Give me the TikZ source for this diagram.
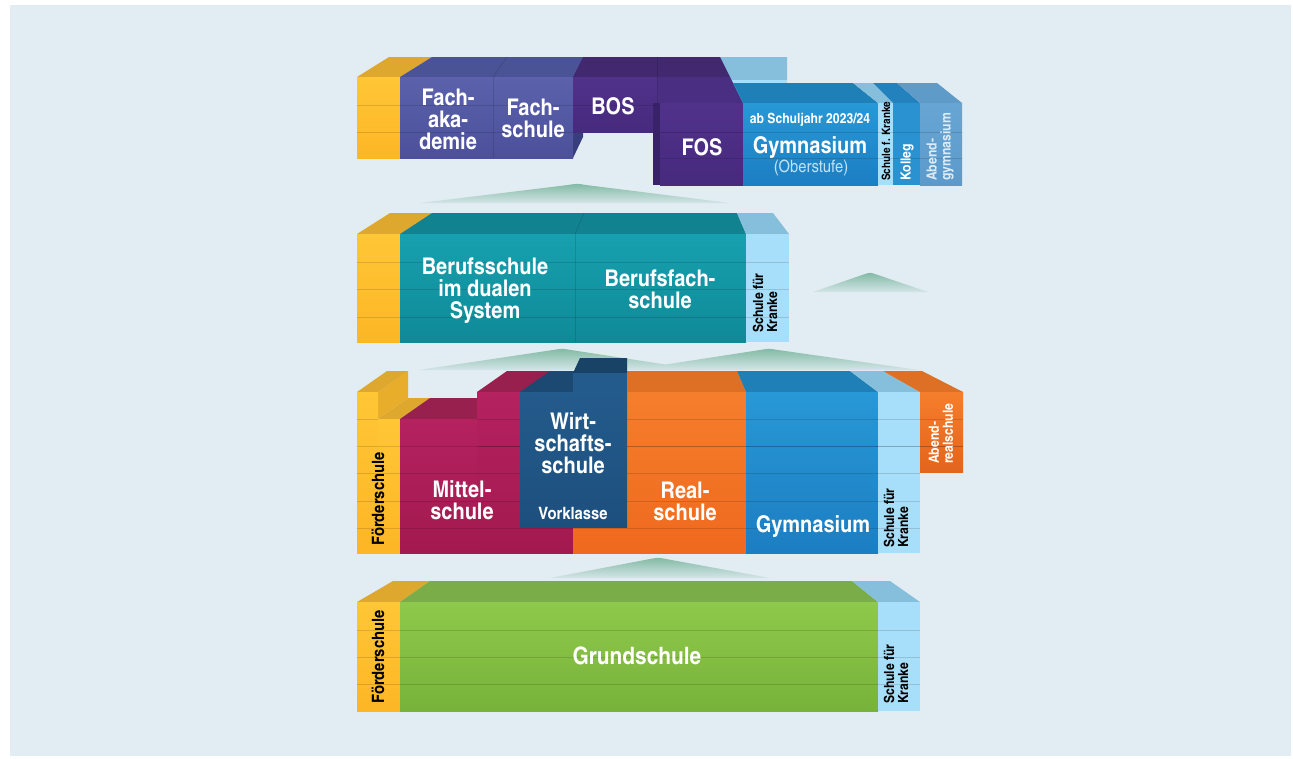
\documentclass[tikz,border=0pt]{standalone}
\usepackage{fontspec}
\setmainfont{texgyreheroscn}[Extension=.otf, UprightFont=*-regular, BoldFont=*-bold, FakeStretch=1.06]

% palette
\definecolor{bg}{HTML}{E2ECF3}
\definecolor{ylwT}{HTML}{FFC636}\definecolor{ylwB}{HTML}{FDB625}
\definecolor{ylwTop}{HTML}{DEA82F}\definecolor{ylwSide}{HTML}{E9AD2C}
\definecolor{grnT}{HTML}{8FC94B}\definecolor{grnB}{HTML}{77B23A}\definecolor{grnTop}{HTML}{7AAD48}
\definecolor{lbF}{HTML}{A7DEF9}\definecolor{lbTop}{HTML}{86BFDC}
\definecolor{tealT}{HTML}{17A0AF}\definecolor{tealB}{HTML}{0F8A97}\definecolor{tealTop}{HTML}{118290}
\definecolor{magT}{HTML}{B42260}\definecolor{magB}{HTML}{A3194F}\definecolor{magTop}{HTML}{97204F}
\definecolor{wsT}{HTML}{235B8C}\definecolor{wsB}{HTML}{1D4F7D}\definecolor{wsTop}{HTML}{1B4971}
\definecolor{orgT}{HTML}{F57E2C}\definecolor{orgB}{HTML}{EF691E}\definecolor{orgTop}{HTML}{DD7025}
\definecolor{gymT}{HTML}{2898D6}\definecolor{gymB}{HTML}{1C7EC2}\definecolor{gymTop}{HTML}{1E80B6}
\definecolor{fakT}{HTML}{5B61AB}\definecolor{fakB}{HTML}{4C509B}\definecolor{fakTop}{HTML}{4A5395}
\definecolor{fakSide}{HTML}{383D7C}
\definecolor{purT}{HTML}{50328B}\definecolor{purB}{HTML}{462A7D}\definecolor{purTop}{HTML}{42296F}
\definecolor{purMid}{HTML}{4A2E82}\definecolor{purSide}{HTML}{3A2268}
\definecolor{kolF}{HTML}{2A92D0}\definecolor{kolTop}{HTML}{2381BD}
\definecolor{agT}{HTML}{66A5D4}\definecolor{agB}{HTML}{5C9ACB}\definecolor{agTop}{HTML}{5E9BC8}
\definecolor{mtn}{HTML}{82BAA4}
\definecolor{oberst}{HTML}{BEE2F7}\definecolor{agText}{HTML}{DCEBF6}

\newcommand\rowlines[3]{\foreach \yy in {#3} \draw[rowline] (#1,\yy) -- (#2,\yy);}

\begin{document}
\begin{tikzpicture}[x=1pt,y=-1pt,
  rowline/.style={draw=black,opacity=0.13,line width=0.7pt},
  seam/.style={draw=black,opacity=0.12,line width=0.7pt},
  mount/.style={top color=mtn,bottom color=bg!85!mtn},
  lbl/.style={text=white,font=\fontsize{23}{22}\selectfont\bfseries,align=center,inner sep=0pt},
  small/.style={text=black,font=\fontsize{14}{14}\selectfont\bfseries,align=left,inner sep=0pt,rotate=90,anchor=west},
  foerd/.style={text=black,font=\fontsize{17}{17}\selectfont\bfseries,inner sep=0pt,rotate=90}]
\useasboundingbox (0,0) rectangle (1293,758);
\fill[white] (0,0) rectangle (1293,758);
\fill[bg] (10,5) rectangle (1291,756);

% transition hills between the levels
\shade[mount] (420,203) -- (568,185) .. controls (577,183.5) .. (586,185) -- (730,203) -- cycle;
\shade[mount] (813,292) -- (865,274) .. controls (870,272.5) .. (875,274) -- (928,292) -- cycle;
\shade[mount] (419,370) -- (553,350) .. controls (562,348.5) .. (571,350) -- (701,370) -- cycle;
\shade[mount] (630,370) -- (760,350) .. controls (769,348.5) .. (778,350) -- (919,370) -- cycle;
\shade[mount] (550,578) -- (650,559) .. controls (658,557.5) .. (666,559) -- (770,578) -- cycle;

% ---------- upper level ----------
\fill[ylwTop] (357,77) -- (400,77) -- (432,57) -- (389,57) -- cycle;
\fill[fakTop] (400,77) -- (573,77) -- (583,57) -- (432,57) -- cycle;
\draw[seam] (493,77) -- (507,57);
\fill[fakSide] (573,77) -- (583,57) -- (583,137) -- (573,158) -- cycle;
\fill[lbTop] (718,57) -- (787,57) -- (787,80) -- (729,80) -- cycle;
\fill[lbF] (729,80) -- (787,80) -- (787,84) -- (731,84) -- cycle;
\fill[purTop] (573,77) -- (583,57) -- (720,57) -- (730,77) -- cycle;
\fill[purMid] (657,77) -- (730,77) -- (743,103) -- (657,103) -- cycle;
\fill[gymTop] (743,103) -- (878,103) -- (853,83) -- (733,83) -- cycle;
\fill[lbTop] (878,103) -- (893,103) -- (873,83) -- (853,83) -- cycle;
\fill[kolTop] (893,103) -- (920,103) -- (897,83) -- (873,83) -- cycle;
\fill[agTop] (920,103) -- (962,103) -- (937,83) -- (897,83) -- cycle;

\shade[top color=ylwT,bottom color=ylwB] (357,77) rectangle (400,158);
\shade[top color=fakT,bottom color=fakB] (400,77) rectangle (573,158);
\draw[seam] (493,77) -- (493,158);
\shade[top color=purT,bottom color=purB] (573,77) rectangle (657,132);
\draw[seam] (657,57) -- (657,103);
\fill[purSide] (653,103) rectangle (660,185);
\shade[top color=purT,bottom color=purB] (660,103) rectangle (743,185);
\shade[top color=gymT,bottom color=gymB] (743,103) rectangle (878,185);
\fill[lbF] (878,103) rectangle (893,185);
\fill[kolF] (893,103) rectangle (920,185);
\shade[top color=agT,bottom color=agB] (920,103) rectangle (962,185);
\rowlines{357}{573}{105,132}
\rowlines{573}{657}{105}
\rowlines{660}{962}{132,158}

\node[lbl] (fak) at (448,119) {Fach-\\aka-\\demie};
\node[lbl] (fs) at (533,118) {Fach-\\schule};
\node[lbl] (bos) at (613,106) {BOS};
\node[lbl] (fos) at (702,147) {FOS};
\node[lbl,font=\fontsize{14}{14}\selectfont\bfseries] (ab) at (810,120) {ab Schuljahr 2023/24};
\node[lbl] (gymo) at (810,147) {Gymnasium};
\node[lbl,text=oberst,font=\fontsize{17}{17}\selectfont] (ober) at (811,168) {(Oberstufe)};
\node[small,font=\fontsize{11.5}{11.5}\selectfont\bfseries] (sfk1) at (886,181) {Schule f. Kranke};
\node[small,text=white] (kol) at (907,181) {Kolleg};
\node[small,text=agText] (abg) at (940,181) {Abend-\\gymnasium};

% ---------- vocational level ----------
\fill[ylwTop] (357,234) -- (400,234) -- (432,213) -- (390,213) -- cycle;
\fill[tealTop] (400,234) -- (746,234) -- (737,213) -- (432,213) -- cycle;
\draw[seam] (575,234) -- (584,213);
\fill[lbTop] (746,234) -- (789,234) -- (773,213) -- (737,213) -- cycle;
\shade[top color=ylwT,bottom color=ylwB] (357,234) rectangle (400,342);
\shade[top color=tealT,bottom color=tealB] (400,234) rectangle (746,342);
\draw[seam] (575,234) -- (575,342);
\fill[lbF] (746,234) rectangle (789,342);
\rowlines{357}{789}{262,289,317}

\node[lbl] (bsd) at (485,291) {Berufsschule\\im dualen\\System};
\node[lbl] (bfs) at (660,289) {Berufsfach-\\schule};
\node[small] (sfk2) at (765,333) {Schule für\\Kranke};

% ---------- secondary level ----------
\fill[ylwTop] (378,419) -- (400,419) -- (430,398) -- (408,398) -- cycle;
\fill[ylwSide] (378,392) -- (408,371) -- (408,398) -- (378,419) -- cycle;
\fill[ylwTop] (357,392) -- (378,392) -- (408,371) -- (387,371) -- cycle;
\fill[magTop] (400,419) -- (477,419) -- (507,398) -- (430,398) -- cycle;
\fill[magTop] (477,392) -- (530,392) -- (560,371) -- (507,371) -- cycle;
\fill[orgTop] (573,392) -- (746,392) -- (737,371) -- (582,371) -- cycle;
\fill[gymTop] (746,392) -- (878,392) -- (850,371) -- (737,371) -- cycle;
\fill[lbTop] (878,392) -- (920,392) -- (883,371) -- (850,371) -- cycle;
\fill[orgTop] (920,392) -- (963,392) -- (922,371) -- (883,371) -- cycle;

\shade[top color=ylwT,bottom color=ylwB] (357,392) rectangle (378,553);
\shade[top color=ylwT,bottom color=ylwB] (378,419) rectangle (400,553);
\shade[top color=magT,bottom color=magB] (400,419) rectangle (477,553);
\shade[top color=magT,bottom color=magB] (477,392) rectangle (573,553);
\shade[top color=orgT,bottom color=orgB] (573,392) rectangle (746,553);
\shade[top color=gymT,bottom color=gymB] (746,392) rectangle (878,553);
\fill[lbF] (878,392) rectangle (920,553);
\shade[top color=orgT,bottom color=orgB!95!black] (920,392) rectangle (963,472);
\rowlines{357}{378}{419}
\rowlines{477}{963}{419,446}
\rowlines{357}{920}{446,473,501,528}
\rowlines{920}{963}{446}

% Wirtschaftsschule box in front
\fill[wsTop] (520,392) -- (573,392) -- (580,371) -- (550,371) -- cycle;
\fill[wsTop!90!black] (573,373) -- (627,373) -- (627,358) -- (580,358) -- cycle;
\fill[wsT] (573,373) rectangle (627,392);
\shade[top color=wsT,bottom color=wsB] (520,392) rectangle (627,527);

\node[foerd] (foe3) at (378,499) {Förderschule};
\node[lbl] (ms) at (462,500) {Mittel-\\schule};
\node[lbl] (ws) at (573,443) {Wirt-\\schafts-\\schule};
\node[lbl,font=\fontsize{17}{17}\selectfont\bfseries] (vk) at (573,514) {Vorklasse};
\node[lbl] (rs) at (685,501) {Real-\\schule};
\node[lbl] (gym) at (813,526) {Gymnasium};
\node[small] (sfk3) at (896,548) {Schule für\\Kranke};
\node[small,text=white] (ars) at (941,464) {Abend-\\realschule};

% ---------- primary level ----------
\fill[ylwTop] (357,602) -- (400,602) -- (430,581) -- (393,581) -- cycle;
\fill[grnTop] (400,602) -- (878,602) -- (852,581) -- (430,581) -- cycle;
\fill[lbTop] (878,602) -- (920,602) -- (890,581) -- (852,581) -- cycle;
\shade[top color=ylwT,bottom color=ylwB] (357,602) rectangle (400,711);
\shade[top color=grnT,bottom color=grnB] (400,602) rectangle (878,711);
\fill[lbF] (878,602) rectangle (920,711);
\rowlines{357}{920}{630,657,684}

\node[foerd] (foe4) at (378,657) {Förderschule};
\node[lbl,font=\fontsize{24}{24}\selectfont\bfseries] (gs) at (637,656) {Grundschule};
\node[small] (sfk4) at (896,704) {Schule für\\Kranke};
\end{tikzpicture}
\end{document}
